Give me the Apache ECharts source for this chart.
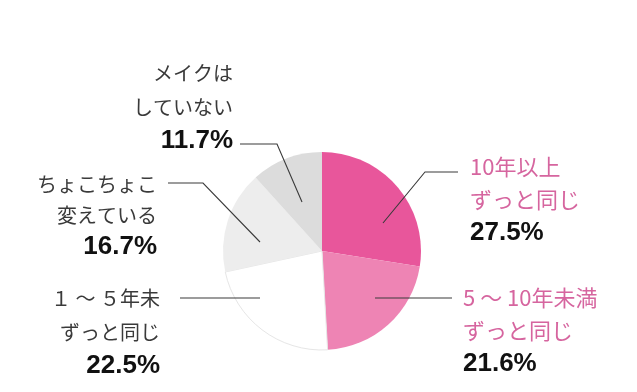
<!DOCTYPE html>
<html>
<head>
<meta charset="utf-8">
<script src="https://cdn.jsdelivr.net/npm/echarts@6/dist/echarts.min.js"></script>
<style>
html,body{margin:0;padding:0;background:#fff;}
#c{width:637px;height:392px;}
</style>
</head>
<body>
<div id="c"></div>
<script>
// ---- data ----
const categories = ['10年以上\nずっと同じ', '5 ～ 10年未満\nずっと同じ', '１ ～ ５年未\nずっと同じ', 'ちょこちょこ\n変えている', 'メイクは\nしていない'];
const values = [27.5, 21.6, 22.5, 16.7, 11.7];

// ---- style / layout ----
const sliceColors = ['#E8569B', '#EE84B4', '#FFFFFF', '#EDEDED', '#DCDCDC'];
const labelTextColors = ['#D6659F', '#D6659F', '#3a3a3a', '#3a3a3a', '#3a3a3a'];
const labelFontSizes = [22, 22, 20, 20, 20];
const labelLineHeights = [33, 33, 34, 31, 34];
const labelPlacement = [
  {x: 470, y: 150, align: 'left',  line: [[383, 223], [425, 172], [458, 172]]},
  {x: 463, y: 281, align: 'left',  line: [[375, 298], [452, 298]]},
  {x: 160, y: 281, align: 'right', line: [[260, 298], [180, 298]]},
  {x: 157, y: 169, align: 'right', line: [[260, 242], [203, 183], [168, 183]]},
  {x: 233, y: 56,  align: 'right', line: [[302, 202], [277, 144], [240, 144]]}
];

const chart = echarts.init(document.getElementById('c'), null, {renderer: 'canvas'});

const pieData = categories.map((name, i) => ({
  name: name,
  value: values[i],
  itemStyle: {
    color: sliceColors[i],
    borderColor: i === 2 ? '#e6e6e6' : sliceColors[i],
    borderWidth: i === 2 ? 1 : 0
  }
}));

const labelData = categories.map((name, i) => ({
  name: name,
  value: values[i],
  itemStyle: {color: 'rgba(0,0,0,0)', borderWidth: 0},
  label: {
    rich: {
      n: {
        fontFamily: '"Noto Sans CJK JP", sans-serif',
        fontSize: labelFontSizes[i],
        color: labelTextColors[i],
        lineHeight: labelLineHeights[i],
        align: labelPlacement[i].align
      },
      v: {
        fontFamily: '"Liberation Sans", Arial, sans-serif',
        fontWeight: 'bold',
        fontSize: 26,
        color: '#111',
        lineHeight: labelLineHeights[i],
        align: labelPlacement[i].align
      }
    }
  }
}));

chart.setOption({
  animation: false,
  backgroundColor: '#fff',
  series: [{
    type: 'pie',
    z: 1,
    center: [322, 251],
    radius: [0, 99],
    startAngle: 90,
    clockwise: true,
    data: pieData,
    label: {show: false},
    labelLine: {show: false},
    silent: true
  }, {
    type: 'pie',
    z: 5,
    center: [322, 251],
    radius: [0, 99],
    startAngle: 90,
    clockwise: true,
    data: labelData,
    silent: true,
    label: {
      show: true,
      position: 'outside',
      formatter: p => '{n|' + p.name + '}\n{v|' + values[p.dataIndex].toFixed(1) + '%}'
    },
    labelLine: {
      show: true,
      showAbove: true,
      smooth: false,
      lineStyle: {color: '#3a3a3a', width: 1.1}
    },
    labelLayout: function (params) {
      const L = labelPlacement[params.dataIndex];
      return {
        x: L.x,
        y: L.y,
        align: L.align,
        verticalAlign: 'top',
        labelLinePoints: L.line
      };
    }
  }]
});
</script>
</body>
</html>
